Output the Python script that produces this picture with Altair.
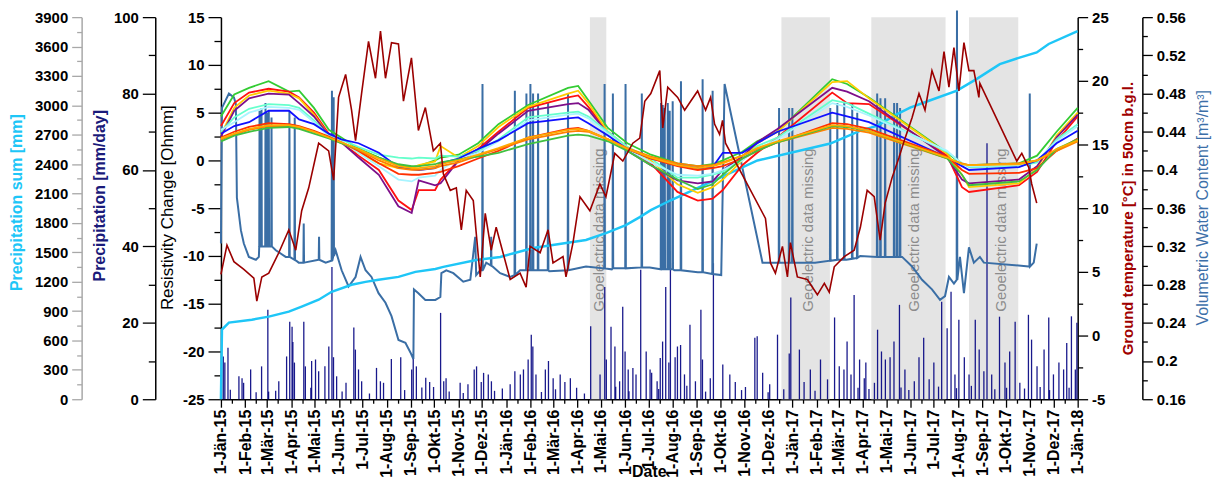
import altair as alt
import pandas as pd

FONT = "Liberation Sans"
W, H = 861, 384
START = pd.Timestamp("2015-01-01")

# ---------------- data ----------------
gap_start = ["2016-04-17", "2016-12-18", "2017-04-12", "2017-08-15"]
gap_end = ["2016-05-08", "2017-02-18", "2017-07-16", "2017-10-17"]
gap_label_date = ["2016-04-29", "2017-01-21", "2017-06-06", "2017-09-25"]
gap_label = ["Geoelectric data missing"] * 4

# daily precipitation (days since 2015-01-01, mm/day)
precip_day = [3, 5, 9, 12, 23, 27, 29, 38, 45, 52, 60, 61, 70, 74, 84, 88, 91, 92, 94, 106,
              108, 115, 116, 121, 125, 133, 138, 142, 144, 148, 155, 160, 170, 172, 176, 180, 190, 199, 204, 208,
              218, 230, 235, 244, 246, 250, 257, 262, 267, 272, 281, 285, 288, 292, 306, 310, 316, 324, 327, 333,
              336, 342, 346, 350, 360, 370, 376, 383, 387, 393, 397, 399, 403, 410, 415, 419, 425, 428, 434, 440,
              447, 455, 465, 473, 485, 491, 493, 499, 504, 505, 510, 514, 517, 521, 522, 527, 531, 537, 544, 549,
              551, 558, 560, 562, 565, 569, 573, 575, 581, 584, 588, 593, 596, 600, 607, 614, 616, 620, 626, 630,
              642, 651, 658, 666, 671, 683, 686, 693, 700, 702, 712, 720, 727, 729, 740, 746, 754, 760, 767, 776,
              785, 791, 797, 801, 806, 810, 815, 817, 823, 825, 829, 836, 840, 845, 850, 856, 861, 868, 870, 875,
              880, 887, 893, 899, 906, 912, 918, 922, 929, 934, 939, 941, 944, 951, 957, 960, 965, 970, 976, 980,
              986, 990, 996, 1003, 1005, 1009, 1016, 1022, 1028, 1033, 1037, 1044, 1048, 1053, 1059, 1060, 1065, 1072, 1078, 1082,
              1085, 1088, 1093, 1095]
precip_mm = [11.2, 9.6, 13.5, 2.5, 6.0, 5.5, 4.3, 7.8, 1.8, 8.6, 23.4, 2.0, 2.2, 4.7, 11.2, 20.3, 19.0, 15.0, 9.6, 20.3,
             8.6, 3.0, 10.0, 10.4, 7.3, 8.6, 13.8, 34.6, 11.0, 6.0, 2.0, 4.3, 18.8, 13.0, 7.8, 4.7, 1.5, 8.2, 4.7, 4.3,
             10.5, 11.0, 2.4, 7.8, 11.2, 8.6, 3.1, 5.6, 4.5, 3.2, 22.6, 4.7, 5.5, 2.0, 4.3, 1.6, 3.9, 7.8, 8.6, 4.5,
             6.9, 6.5, 4.7, 2.2, 2.8, 3.9, 7.3, 6.5, 7.8, 10.4, 16.9, 13.8, 6.5, 1.9, 7.8, 10.0, 5.5, 2.6, 6.5, 4.5,
             5.5, 3.0, 1.5, 19.1, 6.5, 29.4, 10.4, 19.0, 13.8, 3.3, 4.7, 24.2, 12.5, 7.8, 2.1, 8.2, 6.5, 33.9, 12.5, 7.8,
             6.9, 4.7, 2.7, 10.8, 15.1, 29.4, 9.6, 35.6, 11.0, 13.8, 14.2, 6.5, 3.5, 19.5, 4.7, 23.4, 10.4, 2.0, 5.5, 35.6,
             9.1, 6.5, 4.5, 2.4, 3.2, 16.1, 16.5, 6.9, 1.8, 3.9, 16.9, 2.6, 12.0, 26.6, 13.0, 4.5, 7.8, 2.2, 10.4, 5.2,
             21.4, 8.6, 7.8, 15.1, 6.5, 27.3, 3.0, 10.4, 5.5, 9.6, 2.7, 4.3, 18.2, 12.5, 10.4, 11.0, 15.1, 24.7, 3.1, 7.8,
             2.4, 4.7, 11.0, 16.1, 5.2, 9.6, 3.3, 25.5, 18.6, 28.1, 6.5, 2.9, 20.8, 11.0, 6.5, 3.5, 20.8, 13.0, 7.3, 67.0,
             6.5, 2.6, 21.6, 9.6, 3.0, 12.5, 20.3, 4.3, 2.8, 22.1, 15.6, 8.6, 3.2, 13.0, 21.4, 2.4, 6.5, 9.6, 7.8, 14.7,
             3.0, 21.7, 7.8, 20.0]

# cumulative precipitation
psum_day = [0, 1.3, 10.2, 39.5, 61.2, 86.8, 103.3, 125, 141.6, 167.1, 185, 201.6, 227.1, 248.8, 274.3,
            284.5, 326.6, 357.2, 399.3, 441.4, 467, 492.5, 518, 535.8, 549.9, 575.4, 686.4, 779.5, 820.3,
            839.5, 862.5, 881.6, 905.8, 941.6, 967, 996.4, 1020.6, 1043.6, 1058.9, 1095.9]
psum_mm = [0, 711, 782, 812, 843, 894, 945, 1016, 1097, 1168, 1198, 1219, 1249, 1300, 1330,
           1351, 1422, 1452, 1544, 1594, 1625, 1696, 1777, 1859, 1930, 2031, 2437, 2610, 2750,
           2790, 2900, 2976, 3047, 3150, 3270, 3420, 3484, 3540, 3626, 3758]

# volumetric water content (baseline) and spikes
vwc_day = [0, 1.3, 10.2, 16.6, 19.1, 20.4, 25.5, 29.3, 35.7, 44.7, 48.5, 70.2, 82.9, 99.5, 125, 134,
           141, 146.7, 154.4, 163.3, 172.2, 178.6, 185, 192.6, 201.6, 210.5, 218.2, 227.1, 236, 242.4,
           246.2, 246.9, 252.6, 261.5, 274.3, 280.7, 282, 288.3, 297.3, 310, 319, 325.3, 326.5, 331.7,
           339.4, 357.2, 370, 382.7, 420, 467, 500, 548.6, 580, 610, 640, 644.3, 692.8, 760, 800, 817.8,
           871.4, 884.1, 896.9, 909.6, 919.9, 926.3, 931.3, 937.7, 945.4, 950.5, 956.9, 963.2, 970.9,
           976, 1033.4, 1039.8, 1043.6]
vwc_val = [0.323, 0.465, 0.48, 0.476, 0.469, 0.371, 0.337, 0.323, 0.309, 0.306, 0.309, 0.316, 0.309, 0.303, 0.306, 0.303,
           0.305, 0.316, 0.295, 0.278, 0.288, 0.309, 0.295, 0.288, 0.271, 0.261, 0.247, 0.222, 0.219, 0.209,
           0.202, 0.275, 0.271, 0.264, 0.264, 0.267, 0.292, 0.295, 0.292, 0.283, 0.285, 0.33, 0.29, 0.295,
           0.303, 0.292, 0.288, 0.295, 0.294, 0.299, 0.296, 0.298, 0.295, 0.293, 0.290, 0.49, 0.303, 0.303, 0.306, 0.31,
           0.309, 0.299, 0.285, 0.275, 0.264, 0.268, 0.288, 0.281, 0.309, 0.271, 0.319, 0.303, 0.309,
           0.303, 0.299, 0.303, 0.323]
vwc_spike_day = [49.4, 51.9, 57.0, 59.1, 61.2, 64.7, 87.6, 94.4, 105.9, 125.5, 142.0, 144.2, 334.6, 345.7,
                 376.0, 390.8, 395.9, 399.3, 405.7, 418.5, 444.0, 490.8, 501.4, 517.6, 538.4, 563.0, 565.2,
                 567.7, 571.6, 574.1, 577.9, 588.5, 616.2, 629.0, 714.0, 726.8, 731.0, 779.5, 788.5, 797.4,
                 807.6, 814.0, 839.5, 843.7, 849.7, 861.2, 865.0, 868.8, 941.6, 1034.7]
vwc_spike_base = [0.32, 0.32, 0.32, 0.32, 0.32, 0.32, 0.309, 0.306, 0.303, 0.306, 0.305, 0.31, 0.295, 0.30,
                  0.29, 0.295, 0.295, 0.295, 0.295, 0.295, 0.295, 0.297, 0.297, 0.297, 0.298, 0.296, 0.296,
                  0.296, 0.296, 0.296, 0.296, 0.295, 0.293, 0.291, 0.303, 0.303, 0.303, 0.305, 0.306, 0.306,
                  0.307, 0.308, 0.309, 0.309, 0.309, 0.309, 0.309, 0.309, 0.285, 0.299]
vwc_spike_peak = [0.462, 0.465, 0.47, 0.46, 0.462, 0.455, 0.462, 0.455, 0.344, 0.33, 0.483, 0.476, 0.49, 0.33,
                  0.483, 0.48, 0.49, 0.48, 0.48, 0.47, 0.48, 0.49, 0.48, 0.49, 0.48, 0.47, 0.468,
                  0.465, 0.47, 0.462, 0.472, 0.493, 0.495, 0.483, 0.465, 0.465, 0.465, 0.465, 0.47, 0.47,
                  0.47, 0.46, 0.48, 0.475, 0.475, 0.47, 0.47, 0.465, 0.567, 0.48]

# ground temperature in 50 cm
temp_day = [0, 7.7, 16.6, 29.3, 42.1, 45.9, 52.3, 61.2, 74, 86.8, 95.7, 103.3, 112.3, 125, 137.8, 144.2,
            150.5, 159.5, 167.1, 172.2, 179.9, 188.8, 197.7, 204.1, 210.5, 218.2, 227.1, 233.5, 243.7,
            252.6, 261.5, 271.7, 280.7, 284.5, 293.4, 301.1, 307.5, 313.8, 322.8, 331.7, 338.1, 345.7,
            352.1, 370, 382.7, 390.4, 395.5, 408.3, 418.5, 424.8, 437.6, 441.4, 450.4, 459.3, 472, 484.8,
            492.5, 503.9, 514.1, 526.9, 535.8, 542.2, 549.9, 561.4, 565.2, 571.6, 584.3, 593.2, 600.9,
            609.8, 620, 626.4, 631.5, 637.9, 641.7, 645.5, 696.6, 703, 709.3, 718.3, 724.7, 728.5, 737.4,
            750.2, 763, 771.9, 778.2, 784.6, 797.4, 810.1, 818, 826.7, 835.7, 843.3, 849.7, 858.6, 867.5,
            875.2, 884.1, 893, 900.7, 909.6, 918.6, 925, 931.3, 937.7, 944.1, 950.5, 956.9, 963.2, 969.6,
            970.9, 1018.1, 1024.5, 1033.4, 1037.2, 1043.6]
temp_val = [4.8, 7.1, 5.8, 5.2, 4.5, 2.7, 4.6, 4.9, 6.5, 8.3, 6.7, 9.8, 11.6, 15.1, 14.5, 12.2,
            18.7, 20.5, 17.7, 15.3, 19.0, 23.1, 20.2, 23.9, 20.2, 23.0, 22.9, 18.4, 21.8,
            16.1, 17.9, 14.5, 15.1, 12.7, 11.4, 11.6, 8.3, 11.4, 10.6, 4.6, 9.6, 6.7,
            8.5, 4.4, 4.9, 3.8, 7.0, 6.5, 8.3, 5.7, 6.2, 4.6, 7.3, 10.9, 9.8, 11.9,
            10.9, 14.3, 13.7, 15.1, 15.5, 18.4, 19.0, 20.8, 16.3, 19.5, 18.7, 17.7, 18.4,
            19.2, 17.7, 18.7, 16.6, 15.8, 16.9, 15.1, 9.2, 5.7, 4.9, 7.0, 4.6, 7.3, 4.6,
            4.4, 3.2, 4.1, 3.4, 5.4, 6.2, 6.7, 8.5, 11.4, 10.9, 7.5, 10.4, 12.4, 14.0,
            15.5, 17.1, 19.0, 17.7, 20.8, 19.2, 22.3, 19.5, 22.6, 19.2, 23.0, 20.8, 20.8, 18.7,
            19.8, 13.7, 14.3, 13.2, 11.9, 10.4]

# resistivity change (11 profiles)
res_day = [0, 17, 36, 61, 87, 100, 119, 138, 154, 176, 202, 227, 244, 253, 274, 281, 304, 329, 355, 393,
           444, 457, 470, 495, 520, 550, 584, 610, 629, 642, 667, 686, 712, 782, 801, 829, 929, 948, 957,
           1021, 1044, 1069, 1096]
res_green = [4.6, 6.9, 7.6, 8.3, 7.2, 7.3, 5.5, 3.2, 2.4, 1.2, 0.3, -0.5, -0.7, -0.6, 0.0, 0.3, 0.6, 1.8, 3.8, 5.8,
             7.6, 7.8, 6.3, 3.4, 1.8, 0.6, -0.3, -0.6, -0.4, 0.0, 0.9, 2.0, 3.0, 8.5, 8.0, 6.6, 0.8, -0.4, -0.5,
             -0.3, 0.5, 3.0, 5.5]
res_red = [3.6, 6.0, 7.1, 7.5, 7.2, 6.6, 5.0, 2.8, 1.9, 0.5, -1.0, -4.2, -5.2, -3.1, -3.1, -2.0, 0.0, 1.2, 3.0, 5.5,
           6.6, 6.8, 5.6, 3.0, 1.2, -0.3, -3.3, -4.2, -4.0, -3.1, -0.5, 0.8, 2.4, 7.1, 6.0, 5.9, 0.5, -2.8, -3.3,
           -2.6, -1.2, 2.0, 4.6]
res_gold = [2.7, 5.5, 6.8, 7.3, 7.0, 6.5, 4.8, 2.6, 2.0, 0.8, -0.3, -0.8, -0.8, -0.5, -0.1, 1.5, 0.3, 1.5, 3.5, 5.6,
            7.0, 7.3, 6.0, 3.0, 1.4, 0.0, -2.5, -3.4, -2.8, -2.0, 0.0, 1.8, 3.0, 8.2, 8.3, 6.5, 0.7, -1.5, -2.8,
            -2.4, -0.8, 2.6, 5.0]
res_purple = [2.5, 5.2, 6.5, 7.0, 6.9, 6.0, 4.6, 2.6, 1.9, 0.3, -1.5, -4.8, -5.5, -2.1, -2.6, -2.4, 0.0, 1.0, 2.8, 5.2,
              5.9, 6.0, 5.3, 2.8, 1.0, -0.5, -2.1, -2.4, -2.2, -1.0, 0.4, 1.9, 3.3, 7.6, 7.2, 6.2, 0.3, -2.0, -2.4,
              -2.0, -0.6, 2.4, 4.8]
res_aqua = [3.0, 4.5, 5.4, 5.9, 5.8, 5.5, 4.2, 2.6, 2.2, 1.4, 0.6, 0.3, 0.2, 0.3, 0.2, 0.5, 0.4, 1.0, 2.2, 4.5,
            5.0, 5.1, 4.6, 3.0, 1.4, 0.2, -1.8, -1.8, -1.5, -1.2, 0.2, 1.5, 2.4, 6.3, 6.0, 4.9, 0.9, -0.3, -0.7,
            -0.6, -0.2, 2.2, 3.8]
res_cyan = [3.2, 4.0, 5.0, 5.6, 5.5, 5.3, 4.0, 2.5, 2.0, 0.8, -0.6, -2.0, -2.2, -1.8, -1.6, -1.0, 0.2, 0.8, 2.0, 4.2,
            4.8, 4.9, 4.4, 2.8, 1.2, -0.2, -1.5, -1.6, -1.4, -1.0, 0.0, 1.2, 2.2, 6.0, 5.6, 4.7, 1.0, -0.4, -0.6,
            -0.5, 0.0, 2.0, 3.6]
res_blue = [2.8, 3.6, 4.0, 5.2, 5.2, 4.3, 3.8, 2.8, 2.2, 1.8, 0.8, -0.7, -0.9, -1.0, -0.8, -0.3, 0.2, 1.2, 2.1, 3.9,
            4.4, 4.5, 3.9, 2.6, 1.2, 0.2, -0.5, -0.8, -0.7, 0.8, 0.8, 1.8, 3.0, 5.0, 4.6, 4.0, 0.3, -0.6, -1.0,
            -0.7, 0.0, 1.8, 3.1]
res_red_low = [2.4, 3.0, 3.5, 3.9, 3.8, 3.6, 3.1, 2.5, 1.9, 1.0, -0.3, -1.4, -1.5, -1.5, -1.3, -1.2, -0.6, 0.2, 1.0, 2.4,
               3.3, 3.4, 3.1, 2.2, 1.2, 0.2, -0.6, -1.0, -0.8, -0.6, 0.2, 1.0, 1.9, 3.9, 3.8, 3.3, 0.4, -1.0, -1.4,
               -1.3, -0.8, 1.0, 2.3]
res_orange = [2.2, 2.7, 3.2, 3.6, 3.6, 3.4, 3.0, 2.4, 1.8, 1.1, 0.0, -0.8, -1.0, -1.0, -0.8, -0.6, -0.2, 0.5, 1.2, 2.2,
              3.0, 3.1, 3.0, 2.2, 1.3, 0.4, -0.3, -0.6, -0.5, -0.2, 0.5, 1.2, 1.9, 3.4, 3.3, 2.9, 0.2, -0.3, -0.5,
              -0.3, 0.0, 1.0, 2.0]
res_green_low = [2.0, 2.6, 3.0, 3.4, 3.5, 3.3, 2.8, 2.3, 1.8, 1.2, 0.3, -0.4, -0.6, -0.6, -0.4, -0.2, 0.1, 0.4, 0.8, 1.7,
                 2.6, 2.7, 2.6, 2.0, 1.0, -0.5, -2.0, -3.0, -2.5, -1.5, 0.2, 1.0, 1.9, 3.6, 3.5, 3.1, 0.2, -1.5, -2.6,
                 -2.2, -1.0, 1.2, 2.2]
res_gold_low = [2.3, 2.8, 3.3, 3.7, 3.7, 3.5, 3.0, 2.4, 1.9, 1.2, 0.2, -0.6, -0.8, -0.8, -0.6, -0.4, 0.0, 0.6, 1.3, 2.4,
                3.2, 3.3, 3.1, 2.2, 1.2, 0.3, -0.5, -0.8, -0.6, -0.3, 0.5, 1.3, 2.0, 3.7, 3.6, 3.1, 0.3, -0.4, -0.5,
                -0.4, 0.0, 1.2, 2.1]

res_names = ["g1", "r1", "y1", "p1", "a1", "c1", "b1", "r2", "o2", "g2", "y2"]
res_colors = ["#33cc33", "#ff1010", "#ffcc00", "#7d0f8a", "#66ffcc", "#a8f4ff", "#1010ff",
              "#ff3000", "#ff8000", "#40c040", "#ffaa00"]
res_series = [res_green, res_red, res_gold, res_purple, res_aqua, res_cyan, res_blue,
              res_red_low, res_orange, res_green_low, res_gold_low]

MONTHS = ["Jän", "Feb", "Mär", "Apr", "Mai", "Jun", "Jul", "Aug", "Sep", "Okt", "Nov", "Dez"]

# ---------------- tables ----------------
def to_dates(days):
    return [START + pd.Timedelta(days=float(d)) for d in days]

gap_df = pd.DataFrame({"start": pd.to_datetime(gap_start), "end": pd.to_datetime(gap_end)})
lab_df = pd.DataFrame({"mid": pd.to_datetime(gap_label_date), "label": gap_label})
precip_df = pd.DataFrame({"date": to_dates(precip_day), "p": precip_mm})
psum_df = pd.DataFrame({"date": to_dates(psum_day), "s": psum_mm})
temp_df = pd.DataFrame({"date": to_dates(temp_day), "t": temp_val})

v_days = list(vwc_day)
v_vals = list(vwc_val)
for d, b, pk in zip(vwc_spike_day, vwc_spike_base, vwc_spike_peak):
    v_days += [d - 0.4, d, d + 0.4]
    v_vals += [b, pk, b]
vwc_df = pd.DataFrame({"day": v_days, "v": v_vals}).sort_values("day")
vwc_df["date"] = to_dates(vwc_df["day"])
vwc_df = vwc_df[["date", "v"]]

rows = []
for name, vals in zip(res_names, res_series):
    for d, v in zip(res_day, vals):
        rows.append({"date": START + pd.Timedelta(days=d), "r": v, "series": name})
res_df = pd.DataFrame(rows)

# ---------------- axes ----------------
x_ticks = []
for yy in (2015, 2016, 2017):
    for mm in range(1, 13):
        x_ticks.append(alt.DateTime(year=yy, month=mm, date=1))
        x_ticks.append(alt.DateTime(year=yy, month=mm, date=15))
x_ticks.append(alt.DateTime(year=2018, month=1, date=1))

month_arr = "[" + ",".join("'" + m + "'" for m in MONTHS) + "]"
x_axis = alt.Axis(
    values=x_ticks,
    labelExpr="date(datum.value) === 1 ? '1-' + " + month_arr + "[month(datum.value)] + '-' + timeFormat(datum.value, '%y') : ''",
    labelAngle=270, labelFont=FONT, labelFontSize=16, labelFontWeight="bold", labelColor="black",
    labelOverlap=False, labelFlush=False, labelPadding=2,
    tickSize={"condition": {"test": "date(datum.value) === 1", "value": 8}, "value": 4},
    tickColor="black", tickWidth=1.3, domainColor="black", domainWidth=1.5, grid=False,
    title="Date", titleFont=FONT, titleFontSize=16, titleFontWeight="bold", titleColor="black",
    titleX=430, titleY=73, titleAlign="center", titleBaseline="middle",
)
x_scale = alt.Scale(domain=[alt.DateTime(year=2015, month=1, date=1), alt.DateTime(year=2018, month=1, date=1)])


def y_axis(orient, offset, values, test, label_expr, title, tcolor, tx, ty, tsize, tweight,
           major, minor, line_color="black"):
    return alt.Axis(
        orient=orient, offset=offset, values=values, labelExpr=label_expr,
        labelFont=FONT, labelFontSize=15, labelFontWeight="bold", labelColor="black",
        labelOverlap=False, labelFlush=False, labelPadding=4,
        tickSize={"condition": {"test": test, "value": major}, "value": minor},
        tickColor=line_color, tickWidth=1.3, domainColor=line_color, domainWidth=1.5, grid=False,
        title=title, titleColor=tcolor, titleFont=FONT, titleFontSize=tsize, titleFontWeight=tweight,
        titleAngle=270, titleAlign="center", titleBaseline="middle", titleX=tx, titleY=ty,
    )


psum_axis = y_axis("left", 140, [150 * i for i in range(27)], "datum.value % 300 === 0",
                   "datum.value % 300 === 0 ? toString(datum.value) : ''",
                   "Precipitation sum [mm]", "#1ec6f7", -65, 186, 16, "bold", 10, 5, "#a8a8a8")
precip_axis = y_axis("left", 66, [10 * i for i in range(11)], "datum.value % 20 === 0",
                     "datum.value % 20 === 0 ? toString(datum.value) : ''",
                     "Precipitation [mm/day]", "#1a1a7a", -56, 179, 16, "bold", 13, 7)
res_axis = y_axis("left", 0, [-25 + 2.5 * i for i in range(17)], "datum.value % 5 === 0",
                  "datum.value % 5 === 0 ? toString(datum.value) : ''",
                  "Resistivity Change [Ohmm]", "black", -54, 191, 17, "normal", 13, 7)
temp_axis = y_axis("right", 0, [-5 + 2.5 * i for i in range(13)], "datum.value % 5 === 0",
                   "datum.value % 5 === 0 ? toString(datum.value) : ''",
                   "Ground temperature [°C] in 50cm b.g.l.", "#a00000", 50, 202, 15, "bold", 10, 5)
vwc_axis = y_axis("right", 65, [round(0.16 + 0.02 * i, 2) for i in range(21)],
                  "round(datum.value * 100) % 4 === 0",
                  "round(datum.value * 100) % 4 === 0 ? toString(round(datum.value * 100) / 100) : ''",
                  "Volumetric Water Content  [m³/m³]", "#3c6fa8", 60, 191, 16, "normal", 10, 5)

# ---------------- layers ----------------
X = lambda f: alt.X(f, scale=x_scale, axis=x_axis)

rects = alt.Chart(gap_df).mark_rect(color="#e4e4e4").encode(
    x=X("start:T"), x2="end:T", y=alt.value(0), y2=alt.value(H))

labels = alt.Chart(lab_df).mark_text(angle=270, font=FONT, fontSize=15, color="#8c8c8c",
                                     align="center", baseline="middle").encode(
    x=X("mid:T"), y=alt.value(214), text="label:N")

precip = alt.Chart(precip_df).mark_rule(color="#000080", strokeWidth=1.3, opacity=0.9).encode(
    x=X("date:T"),
    y=alt.Y("p:Q", scale=alt.Scale(domain=[0, 100], nice=False, zero=False), axis=precip_axis),
    y2=alt.datum(0))

vwc = alt.Chart(vwc_df).mark_line(color="#3a6ea5", strokeWidth=2).encode(
    x=X("date:T"),
    y=alt.Y("v:Q", scale=alt.Scale(domain=[0.16, 0.56], nice=False, zero=False), axis=vwc_axis))

psum = alt.Chart(psum_df).mark_line(color="#1ec6f7", strokeWidth=2.5).encode(
    x=X("date:T"),
    y=alt.Y("s:Q", scale=alt.Scale(domain=[0, 3900], nice=False, zero=False), axis=psum_axis))

res = alt.Chart(res_df).mark_line(strokeWidth=1.8).encode(
    x=X("date:T"),
    y=alt.Y("r:Q", scale=alt.Scale(domain=[-25, 15], nice=False, zero=False), axis=res_axis),
    color=alt.Color("series:N", scale=alt.Scale(domain=res_names, range=res_colors), legend=None),
    detail="series:N")

temp = alt.Chart(temp_df).mark_line(color="#9b0000", strokeWidth=1.6).encode(
    x=X("date:T"),
    y=alt.Y("t:Q", scale=alt.Scale(domain=[-5, 25], nice=False, zero=False), axis=temp_axis))

chart = alt.layer(rects, labels, precip, vwc, psum, res, temp).resolve_scale(
    y="independent", color="independent"
).properties(
    width=W, height=H,
    autosize=alt.AutoSizeParams(type="none"),
    padding={"left": 214, "top": 8, "right": 137, "bottom": 83},
).configure_view(stroke=None)

chart.save("out.html", embed_options={"renderer": "svg", "actions": False})
